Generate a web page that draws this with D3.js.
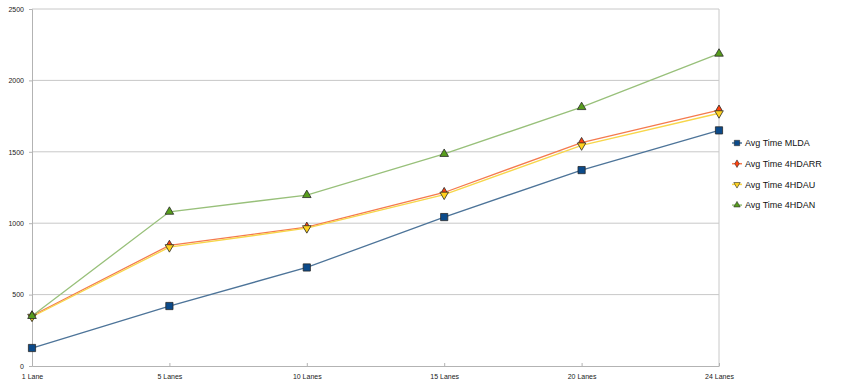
<!DOCTYPE html>
<html>
<head>
<meta charset="utf-8">
<script src="https://cdn.jsdelivr.net/npm/d3@7"></script>
<style>
  body { margin: 0; background: #fff; }
  svg { display: block; font-family: "Liberation Sans", Arial, sans-serif; }
</style>
</head>
<body>
<div id="chart"></div>
<script>
// categories and series
const lanes = ["1 Lane", "5 Lanes", "10 Lanes", "15 Lanes", "20 Lanes", "24 Lanes"];
const mlda   = [126, 420, 690, 1043, 1372, 1650];
const hdarr  = [352, 845, 972, 1215, 1565, 1792];
const hdau   = [345, 832, 965, 1200, 1545, 1770];
const hdan   = [350, 1080, 1197, 1485, 1813, 2187];
const yTicks = [0, 500, 1000, 1500, 2000, 2500];

const series = [
    { name: "Avg Time MLDA",   values: mlda,  line: "#4d7499", fill: "#0b4a8a", shape: d3.symbolSquare, size: 52 },
    { name: "Avg Time 4HDARR", values: hdarr, line: "#f47a4e", fill: "#ff420e", shape: d3.symbolDiamond, size: 30 },
    { name: "Avg Time 4HDAU",  values: hdau,  line: "#f7d64a", fill: "#ffd320", shape: "down", size: 32 },
    { name: "Avg Time 4HDAN",  values: hdan,  line: "#98c07a", fill: "#579d1c", shape: d3.symbolTriangle, size: 32 }
];

const width = 841, height = 386;
const plotLeft = 32, plotRight = 719, plotTop = 9, plotBottom = 366;

const svg = d3.select("#chart").append("svg")
    .attr("width", width)
    .attr("height", height);

const x = d3.scalePoint().domain(lanes).range([plotLeft, plotRight]);
const y = d3.scaleLinear().domain([0, 2500]).range([plotBottom, plotTop]);

// gridlines
svg.append("g").selectAll("line")
    .data(yTicks.filter(d => d > 0))
    .enter().append("line")
    .attr("x1", plotLeft).attr("x2", plotRight)
    .attr("y1", d => y(d)).attr("y2", d => y(d))
    .attr("stroke", "#c8c8c8")
    .attr("stroke-width", 1);

// right border of plot
svg.append("line")
    .attr("x1", plotRight).attr("x2", plotRight)
    .attr("y1", plotTop).attr("y2", plotBottom)
    .attr("stroke", "#c8c8c8");

// y axis
const yAxis = svg.append("g")
    .attr("transform", `translate(${plotLeft},0)`)
    .call(d3.axisLeft(y).tickValues(yTicks).tickSize(3).tickPadding(5).tickFormat(d3.format("d")));
yAxis.select(".domain").attr("stroke", "#b3b3b3");
yAxis.selectAll(".tick line").attr("stroke", "#b3b3b3");
yAxis.selectAll("text").attr("fill", "#222").style("font-size", "7px");

// x axis
const xAxis = svg.append("g")
    .attr("transform", `translate(0,${plotBottom})`)
    .call(d3.axisBottom(x).tickSizeInner(-3).tickSizeOuter(0).tickPadding(8));
xAxis.select(".domain").attr("stroke", "#b3b3b3");
xAxis.selectAll(".tick line").attr("stroke", "#b3b3b3");
xAxis.selectAll("text").attr("fill", "#222").style("font-size", "7px");

function symbolPath(shape, size) {
    if (shape === "down") {
        return d3.symbol().type(d3.symbolTriangle).size(size)();
    }
    return d3.symbol().type(shape).size(size)();
}

const line = d3.line()
    .x((d, i) => x(lanes[i]))
    .y(d => y(d));

series.forEach(s => {
    svg.append("path")
        .datum(s.values)
        .attr("d", line)
        .attr("fill", "none")
        .attr("stroke", s.line)
        .attr("stroke-width", 1.3);
});

series.forEach(s => {
    svg.append("g").selectAll("path")
        .data(s.values)
        .enter().append("path")
        .attr("d", symbolPath(s.shape, s.size))
        .attr("transform", (d, i) => `translate(${x(lanes[i])},${y(d)})` + (s.shape === "down" ? " rotate(180)" : ""))
        .attr("fill", s.fill)
        .attr("stroke", "#2a2a2a")
        .attr("stroke-width", 0.8);
});

// legend
const legend = svg.append("g").attr("transform", "translate(737,143)");
const rows = legend.selectAll("g")
    .data(series)
    .enter().append("g")
    .attr("transform", (d, i) => `translate(0,${i * 20.7})`);
rows.append("line")
    .attr("x1", -5).attr("x2", 5)
    .attr("stroke", d => d.line)
    .attr("stroke-width", 1.5);
rows.append("path")
    .attr("d", d => symbolPath(d.shape, d.size * 0.55))
    .attr("transform", d => d.shape === "down" ? "rotate(180)" : null)
    .attr("fill", d => d.fill)
    .attr("stroke", "#2a2a2a")
    .attr("stroke-width", 0.6);
rows.append("text")
    .attr("x", 8)
    .attr("dy", "0.35em")
    .attr("fill", "#111")
    .style("font-size", "9px")
    .text(d => d.name);
</script>
</body>
</html>
